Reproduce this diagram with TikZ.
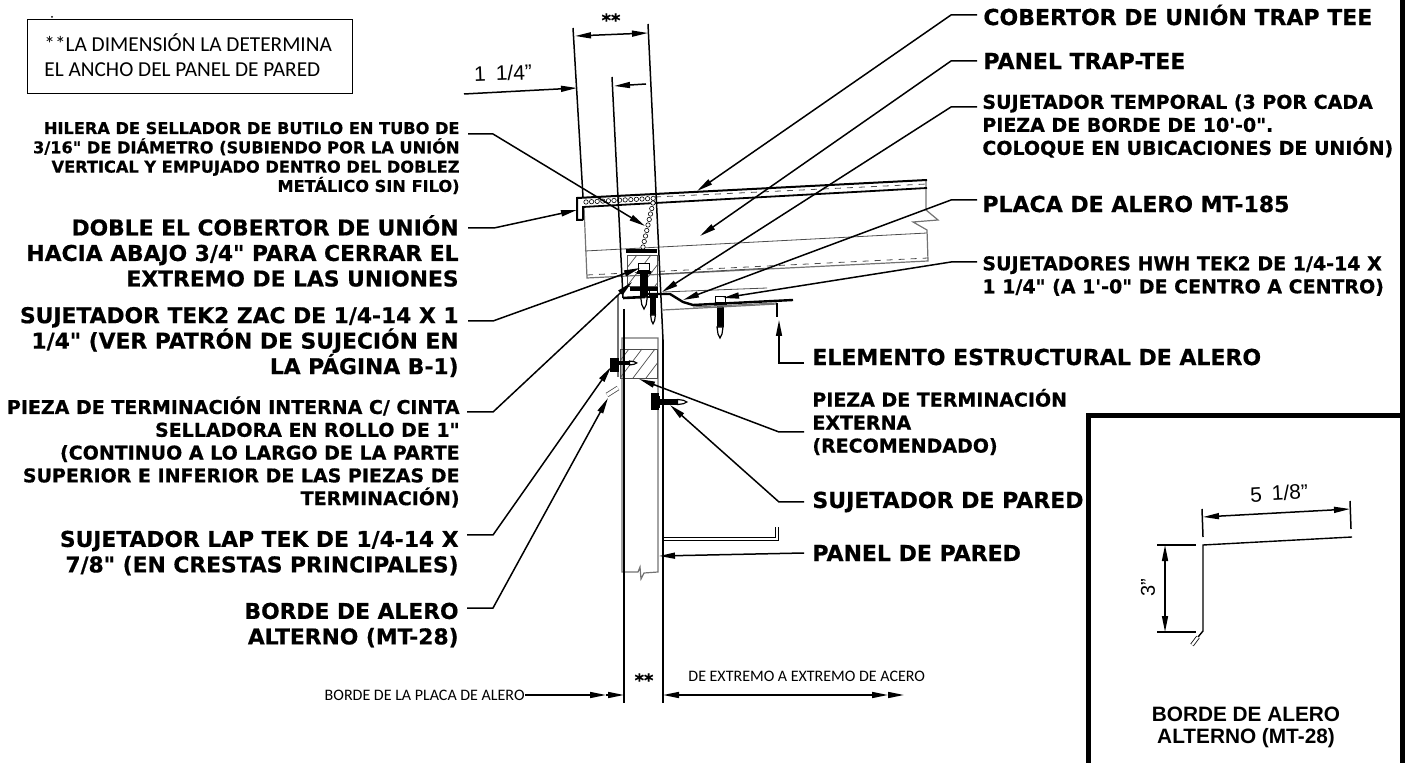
\documentclass[tikz,border=0pt]{standalone}
\usepackage{fontspec}
\usetikzlibrary{arrows.meta}
\newfontfamily\calloutfont[FakeBold=0.6]{DejaVu Sans Bold}
\newfontfamily\notefont{Carlito}
\newfontfamily\dimfont{Liberation Sans}
\newfontfamily\insetfont{Liberation Sans Bold}
\tikzset{
  calloutbig/.style={inner sep=0pt,align=right,anchor=east,font=\calloutfont\fontsize{10.9}{12.75}\selectfont},
  calloutmid/.style={inner sep=0pt,align=right,anchor=east,font=\calloutfont\fontsize{9.5}{11.4}\selectfont},
  rightbig/.style={inner sep=0pt,align=left,anchor=west,font=\calloutfont\fontsize{11}{13}\selectfont},
  rightmid/.style={inner sep=0pt,align=left,anchor=west,font=\calloutfont\fontsize{9.5}{11.5}\selectfont},
  leader/.style={line width=0.75pt,-{Triangle[length=8pt,width=3pt]}},
  dimline/.style={line width=0.75pt,{Triangle[length=8pt,width=3pt]}-{Triangle[length=8pt,width=3pt]}},
  witness/.style={line width=0.75pt},
  part/.style={line width=0.4pt,draw=black!70},
  grayline/.style={line width=0.6pt,draw=black!55},
  seal/.style={line width=0.3pt,fill=white},
  framing/.style={line width=2.5pt},
  screwpic/.pic={
    \draw[fill=white,line width=0.5pt] (-5,0) rectangle (5,6);
    \fill (-6.5,6) rectangle (6.5,9);
    \fill (-3.5,9) rectangle (3.5,30);
    \draw[fill=white,line width=0.6pt] (-3,30) -- (3,30) -- (2,37) -- (0,41) -- (-2,37) -- cycle;
  }
}
\begin{document}
\begin{tikzpicture}[x=0.5pt,y=-0.5pt]
  \useasboundingbox (0,0) rectangle (1406,763);
  % note box
  \node (notebox) [draw,line width=0.5pt,minimum width=162.5pt,minimum height=37pt,inner sep=0pt] at (189.5,57) {};
  \node (notetext) [inner sep=0pt,anchor=west,align=left,font=\notefont\fontsize{10.65}{12.5}\selectfont] at (44,55.5)
    {**LA DIMENSIÓN LA DETERMINA\\EL ANCHO DEL PANEL DE PARED};
  \fill (52,17) circle [radius=1];
  % frame
  \draw[framing] (1402.5,0) -- (1402.5,763);
  \draw[framing] (1088.5,763) -- (1088.5,415.5) -- (1405,415.5);
  % roof panel
  \draw[grayline] (584,207) -- (587,278) -- (928,261) -- (927,230) -- (913,222) -- (938,220) -- (926,210) -- (926,180);
  \draw[part] (585,251) -- (927,233);
  \draw[part,dashed] (587,275) -- (928,258);
  \draw[part] (660,274) -- (770,268);
  % seam cover
  \draw[line width=1pt] (583,220) -- (577,220) -- (577,198) -- (927,180);
  \draw[line width=0.9pt] (583,220) -- (583,207) -- (927,188);
  \draw[part,dashed] (655,197) -- (927,184);
  \foreach \i in {0,...,12}
    \draw[seal] ({586+5.6*\i},{202-0.3*\i}) circle [radius=2.2];
  \foreach \i in {0,...,8}
    \draw[seal] ({653-1.25*\i},{203+5.5*\i}) circle [radius=2.2];
  % upper closure
  \draw[line width=2pt] (626,251) -- (657,251);
  \draw[line width=2pt] (630,289) -- (658,289);
  \draw[part] (627,255) rectangle (657,286);
  \begin{scope}
    \clip (627,255) rectangle (657,286);
    \foreach \d in {-14,0,...,42}
      \draw[line width=0.35pt,draw=black!70] (627+\d,286) -- (627+\d+24,255);
  \end{scope}
  % fasteners at the eave
  \pic at (644,264) [scale=1.1] {screwpic};
  \pic at (653,291) [scale=0.8] {screwpic};
  \pic at (720,297) {screwpic};
  % eave plate and eave strut
  \draw[line width=1.3pt] (623,298) -- (645,297);
  \draw[line width=1.2pt] (645,294) -- (670,294) -- (683,302) -- (693,305) -- (793,300);
  \draw[part] (663,292) -- (767,288);
  \draw[grayline] (663,310) -- (777,304);
  \draw[grayline] (693,307) -- (777,303);
  \draw[line width=1.2pt] (777,303) -- (777,317);
  % wall panel
  \draw[grayline] (618,295) -- (618,377);
  \draw[grayline] (622,338) -- (622,572) -- (638,572) -- (640,567) -- (641,579) -- (644,573) -- (658,572) -- (658,338) -- cycle;
  \draw[part] (620,349) rectangle (657,378);
  \begin{scope}
    \clip (620,349) rectangle (657,378);
    \foreach \d in {-13,0,...,39}
      \draw[line width=0.35pt,draw=black!70] (620+\d,378) -- (620+\d+22,349);
  \end{scope}
  \draw[draw=black!70,line width=0.4pt,double,double distance=1.6pt] (607,395) -- (618,388);
  \pic at (610,363) [rotate=90,scale=0.65] {screwpic};
  \fill (610,358) rectangle (619,372);
  \pic at (652,402) [rotate=90,scale=0.85] {screwpic};
  \fill (651,393) rectangle (659,410);
  % wall girt
  \draw[line width=0.6pt,double,double distance=0.7pt] (663,539) -- (777,539) -- (777,527);
  % witness lines
  \path
    (573,28) coordinate (leftwita)
    (583,197) coordinate (leftwitb)
    (612,77) coordinate (midwita)
    (623,298) coordinate (midwitb)
    (648,24) coordinate (rightwita)
    (663,340) coordinate (rightwitb)
    (624,309) coordinate (lowwita)
    (624,703) coordinate (lowwitb)
    (663,540) coordinate (lowwitc)
    (663,703) coordinate (lowwitd);
  \begin{scope}[witness]
    \draw (leftwita) to (leftwitb);
    \draw (midwita) to (midwitb);
    \draw (rightwita) to (rightwitb);
    \draw (lowwita) to (lowwitb);
    \draw (rightwitb) to (lowwitc);
    \draw (lowwitc) to (lowwitd);
  \end{scope}
  % dimensions
  \path
    (575,36) coordinate (topdima)
    (648,33) coordinate (topdimb)
    (464,94) coordinate (quarterdima)
    (577,88) coordinate (quarterdimb)
    (646,84) coordinate (quarterdimc)
    (614,86) coordinate (quarterdimd)
    (525,695) coordinate (platedima)
    (606,695) coordinate (platedimb)
    (624,695) coordinate (platedimc)
    (663,695) coordinate (steeldima)
    (888,695) coordinate (steeldimb)
    (904,695) coordinate (steeldimc);
  \draw[dimline] (topdima) to (topdimb);
  \draw[leader] (quarterdima) to (quarterdimb);
  \draw[leader] (quarterdimc) to (quarterdimd);
  \draw[leader] (platedima) to (platedimb);
  \draw[leader] (platedimb) to (platedimc);
  \draw[leader] (steeldimb) to (steeldimc);
  \draw[dimline] (steeldima) to (steeldimb);
  \node (widthtop) [font=\calloutfont\fontsize{9}{9}\selectfont] at (611,20) {**};
  \node (widthlow) [font=\calloutfont\fontsize{9}{9}\selectfont] at (644,680) {**};
  \node (quartertext) [rotate=2,font=\dimfont\fontsize{10.5}{10.5}\selectfont] at (503,73) {1\hspace{5pt}1/4”};
  \node (platetext) [inner sep=0pt,anchor=east,font=\notefont\fontsize{8}{10}\selectfont] at (525,695) {BORDE DE LA PLACA DE ALERO};
  \node (steeltext) [inner sep=0pt,anchor=west,font=\notefont\fontsize{8}{10}\selectfont] at (688,676) {DE EXTREMO A EXTREMO DE ACERO};
  % left callouts
  \node (hilera) [calloutmid,font=\calloutfont\fontsize{8.1}{9.65}\selectfont] at (460,158) {HILERA DE SELLADOR DE BUTILO EN TUBO DE\\3/16" DE DIÁMETRO (SUBIENDO POR LA UNIÓN\\VERTICAL Y EMPUJADO DENTRO DEL DOBLEZ\\METÁLICO SIN FILO)};
  \node (doble) [calloutbig] at (459,251) {DOBLE EL COBERTOR DE UNIÓN\\HACIA ABAJO 3/4" PARA CERRAR EL\\EXTREMO DE LAS UNIONES};
  \node (zac) [calloutbig] at (459,342) {SUJETADOR TEK2 ZAC DE 1/4-14 X 1\\1/4" (VER PATRÓN DE SUJECIÓN EN\\LA PÁGINA B-1)};
  \node (interna) [calloutmid] at (460,452) {PIEZA DE TERMINACIÓN INTERNA C/ CINTA\\SELLADORA EN ROLLO DE 1"\\(CONTINUO A LO LARGO DE LA PARTE\\SUPERIOR E INFERIOR DE LAS PIEZAS DE\\TERMINACIÓN)};
  \node (laptek) [calloutbig] at (459,553) {SUJETADOR LAP TEK DE 1/4-14 X\\7/8" (EN CRESTAS PRINCIPALES)};
  \node (borde) [calloutbig] at (459,625) {BORDE DE ALERO\\ALTERNO (MT-28)};
  % right callouts
  \node (cobertor) [rightbig] at (983,15) {COBERTOR DE UNIÓN TRAP TEE};
  \node (trappanel) [rightbig] at (983,61) {PANEL TRAP-TEE};
  \node (temporal) [rightmid] at (982,126) {SUJETADOR TEMPORAL (3 POR CADA\\PIEZA DE BORDE DE 10'-0".\\COLOQUE EN UBICACIONES DE UNIÓN)};
  \node (placa) [rightbig] at (982,204) {PLACA DE ALERO MT-185};
  \node (hwh) [rightmid] at (982,276) {SUJETADORES HWH TEK2 DE 1/4-14 X\\1 1/4" (A 1'-0" DE CENTRO A CENTRO)};
  \node (elemento) [rightbig] at (812,357) {ELEMENTO ESTRUCTURAL DE ALERO};
  \node (externa) [rightmid] at (812,422) {PIEZA DE TERMINACIÓN\\EXTERNA\\(RECOMENDADO)};
  \node (sujpared) [rightbig] at (812,502) {SUJETADOR DE PARED};
  \node (panelpared) [rightbig] at (812,553) {PANEL DE PARED};
  % leaders
  \path
    (468,134) coordinate (hileraa) (493,134) coordinate (hilerab) (645,226) coordinate (hilerac)
    (468,228) coordinate (doblea) (494,228) coordinate (dobleb) (577,210) coordinate (doblec)
    (468,321) coordinate (zaca) (493,321) coordinate (zacb) (640,268) coordinate (zacc)
    (467,412) coordinate (internaa) (493,412) coordinate (internab) (632,282) coordinate (internac)
    (467,535) coordinate (lapa) (493,535) coordinate (lapb) (611,367) coordinate (lapc)
    (467,608) coordinate (bordea) (493,608) coordinate (bordeb) (608,398) coordinate (bordec)
    (977,15) coordinate (cobertora) (951,15) coordinate (cobertorb) (697,191) coordinate (cobertorc)
    (977,61) coordinate (trapa) (951,61) coordinate (trapb) (700,236) coordinate (trapc)
    (977,107) coordinate (tempa) (951,107) coordinate (tempb) (662,292) coordinate (tempc)
    (977,200) coordinate (placaa) (951,200) coordinate (placab) (683,300) coordinate (placac)
    (977,262) coordinate (hwha) (951,262) coordinate (hwhb) (723,298) coordinate (hwhc)
    (804,363) coordinate (elema) (779,363) coordinate (elemb) (779,320) coordinate (elemc)
    (804,432) coordinate (exta) (779,432) coordinate (extb) (639,379) coordinate (extc)
    (804,502) coordinate (pareda) (779,502) coordinate (paredb) (670,405) coordinate (paredc)
    (804,553) coordinate (wala) (659,556) coordinate (walb);
  \begin{scope}[leader]
    \draw (hileraa) -- (hilerab) -- (hilerac);
    \draw (doblea) -- (dobleb) -- (doblec);
    \draw (zaca) -- (zacb) -- (zacc);
    \draw (internaa) -- (internab) -- (internac);
    \draw (lapa) -- (lapb) -- (lapc);
    \draw (bordea) -- (bordeb) -- (bordec);
    \draw (cobertora) -- (cobertorb) -- (cobertorc);
    \draw (trapa) -- (trapb) -- (trapc);
    \draw (tempa) -- (tempb) -- (tempc);
    \draw (placaa) -- (placab) -- (placac);
    \draw (hwha) -- (hwhb) -- (hwhc);
    \draw (elema) -- (elemb) -- (elemc);
    \draw (exta) -- (extb) -- (extc);
    \draw (pareda) -- (paredb) -- (paredc);
    \draw (wala) -- (walb);
  \end{scope}
  % inset
  \draw[line width=0.7pt] (1352,537) -- (1203,545) -- (1203,631) -- (1198,637);
  \draw[line width=0.4pt,double,double distance=1.2pt] (1198,637) -- (1192,645);
  \path
    (1202,509) coordinate (insetwita) (1203,537) coordinate (insetwitb)
    (1350,501) coordinate (insetwitc) (1351,529) coordinate (insetwitd)
    (1157,545) coordinate (insetwite) (1196,545) coordinate (insetwitf)
    (1157,632) coordinate (insetwitg) (1196,632) coordinate (insetwith)
    (1203,517) coordinate (insetdima) (1350,509) coordinate (insetdimb)
    (1165,545) coordinate (insetdimc) (1165,632) coordinate (insetdimd);
  \begin{scope}[witness]
    \draw (insetwita) to (insetwitb);
    \draw (insetwitc) to (insetwitd);
    \draw (insetwite) to (insetwitf);
    \draw (insetwitg) to (insetwith);
  \end{scope}
  \draw[dimline] (insetdima) to (insetdimb);
  \draw[dimline] (insetdimc) to (insetdimd);
  \node (widthinset) [rotate=3,font=\dimfont\fontsize{10.5}{10.5}\selectfont] at (1279,493) {5\hspace{5pt}1/8”};
  \node (heightinset) [rotate=90,font=\dimfont\fontsize{10}{10}\selectfont] at (1148,588) {3”};
  \node (insetname) [align=center,inner sep=0pt,font=\insetfont\fontsize{10.4}{11}\selectfont] at (1246,727) {BORDE DE ALERO\\ALTERNO (MT-28)};
\end{tikzpicture}
\end{document}
